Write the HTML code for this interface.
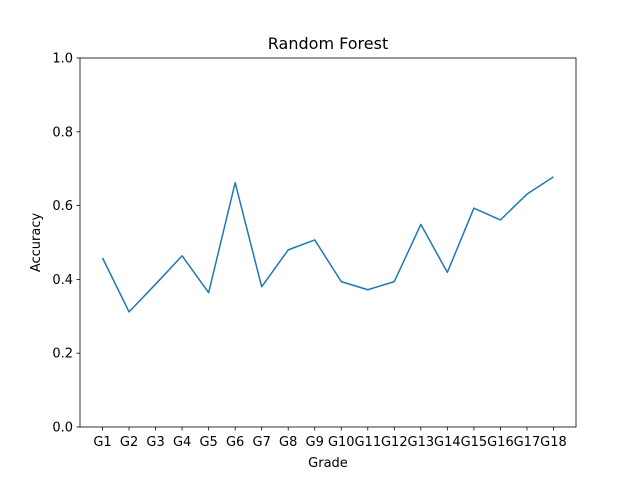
<!DOCTYPE html>
<html><head><meta charset="utf-8"><style>
body{margin:0;background:#fff;}
svg text{font-family:"DejaVu Sans","Liberation Sans",sans-serif;}
</style></head><body>
<svg id="chart" width="640" height="480" xmlns="http://www.w3.org/2000/svg"></svg>
<script>
const categories=["G1","G2","G3","G4","G5","G6","G7","G8","G9","G10","G11","G12","G13","G14","G15","G16","G17","G18"];
const accuracy=[0.458,0.312,0.387,0.464,0.364,0.662,0.380,0.480,0.507,0.394,0.372,0.394,0.549,0.419,0.593,0.561,0.631,0.678];
const yTicks=[0,0.2,0.4,0.6,0.8,1.0];
const yTickLabels=["0.0","0.2","0.4","0.6","0.8","1.0"];
const svg=document.getElementById('chart');
const NS="http://www.w3.org/2000/svg";
const L=80,R=576,T=58,B=427;
const n=categories.length;
const span=(n-1)*1.1;
const xs=i=>L+(i+(n-1)*0.05)/span*(R-L);
const ys=v=>B-v*(B-T);
function mk(tag,attrs,txt){const e=document.createElementNS(NS,tag);for(const k in attrs)e.setAttribute(k,attrs[k]);if(txt!==undefined)e.textContent=txt;svg.appendChild(e);return e;}
const frame=mk('rect',{x:L,y:T,width:R-L,height:B-T,fill:'none',stroke:'#000','stroke-width':0.8});


yTicks.forEach((v,i)=>{
  const t=mk('line',{x1:L-3.5,x2:L,y1:ys(v),y2:ys(v),stroke:'#000','stroke-width':0.8});
  
  
  const l=mk('text',{x:L-7,y:ys(v)+4.5,'text-anchor':'end','font-size':13},yTickLabels[i]);
  
  
});
categories.forEach((c,i)=>{
  const t=mk('line',{x1:xs(i),x2:xs(i),y1:B,y2:B+3.5,stroke:'#000','stroke-width':0.8});
  
  
  const l=mk('text',{x:xs(i),y:B+19,'text-anchor':'middle','font-size':13},c);
  
  
});
const line=mk('polyline',{points:accuracy.map((v,i)=>xs(i)+','+ys(v)).join(' '),fill:'none',stroke:'#1f77b4','stroke-width':1.5,'stroke-linejoin':'round'});


const title=mk('text',{x:(L+R)/2,y:49,'text-anchor':'middle','font-size':16},'Random Forest');


const xt=mk('text',{x:(L+R)/2,y:467,'text-anchor':'middle','font-size':13},'Grade');


const yt=mk('text',{x:0,y:0,'text-anchor':'middle','font-size':13,transform:'translate(40,'+((T+B)/2)+') rotate(-90)'},'Accuracy');


</script>
</body></html>
